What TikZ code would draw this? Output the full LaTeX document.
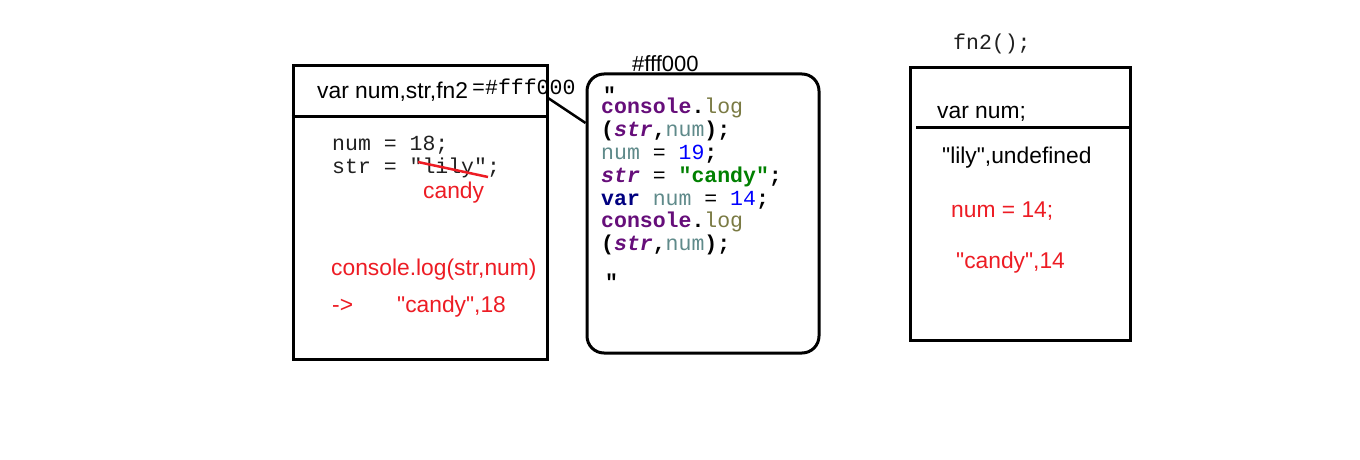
\documentclass[tikz,border=0pt]{standalone}
\usepackage{fontspec}
\setmainfont{Liberation Sans}[Ligatures=TeXOff]
\setmonofont{Liberation Mono}
\definecolor{pred}{RGB}{237,28,36}
\definecolor{jpurple}{HTML}{660E7A}
\definecolor{jolive}{HTML}{7A7A43}
\definecolor{jteal}{HTML}{5F8A8A}
\definecolor{jblue}{HTML}{0000FF}
\definecolor{jgreen}{HTML}{008000}
\definecolor{jnavy}{HTML}{000080}
\definecolor{codegray}{HTML}{202020}
\newcommand{\kw}[2]{\textcolor{#1}{\bfseries #2}}
\newcommand{\gv}[1]{\textcolor{jpurple}{\bfseries\itshape #1}}
\begin{document}
\begin{tikzpicture}[x=1pt,y=-1pt,
  box/.style={draw,line width=3pt,inner sep=0pt},
  txt/.style={anchor=base west,inner sep=0pt,font=\fontsize{22.8}{26}\selectfont},
  redtxt/.style={txt,text=pred},
  code/.style={anchor=base west,inner sep=0pt,font=\fontsize{21.5}{23}\selectfont\ttfamily},
  divider/.style={line width=3pt}]
\fill[white] (0,0) rectangle (1360,460);
\useasboundingbox (0,0) rectangle (1360,460);

% ---------- left box ----------
\node[box,minimum width=254pt,minimum height=293pt] (lbox) at (420,212.5) {};
\draw[divider] (lbox.west |- 0,116) -- (lbox.east |- 0,116);
\node[txt] (lhead) at (317,99) {var num,str,fn2};
\node[code] (lhash) at (472,95) {=\#fff000};
\node[code,text=codegray] (lnum) at (332,150) {num = 18;};
\node[code,text=codegray] (lstr) at (332,173) {str = "lily";};
\coordinate (s1) at (418,162);
\coordinate (s2) at (488,177);
\draw[pred,line width=2.5pt] (s1) -- (s2);
\node[redtxt] (lcandy) at (423,198) {candy};
\node[redtxt] (llog) at (331,275) {console.log(str,num)};
\node[redtxt] (larrow) at (332,312) {->};
\node[redtxt] (lres) at (397,312) {"candy",18};

% ---------- function body box ----------
\node[box,rounded corners=17pt,minimum width=232pt,minimum height=279pt] (fbox) at (703,213.5) {};
\node[txt,font=\fontsize{22}{24}\selectfont] (fhash) at (632,72) {\#fff000};
\coordinate (c1) at (548,98);
\coordinate (c2) at (fbox.west |- 0,123);
\draw[line width=2.5pt] (c1) -- (c2);
\node[code] (f1) at (601,113) {\rlap{\hspace{2pt}\raisebox{10pt}{\bfseries "}}\kw{jpurple}{console}\textbf{.}\textcolor{jolive}{log}};
\node[code] (f2) at (601,136) {\textbf{(}\gv{str}\textbf{,}\textcolor{jteal}{num}\textbf{);}};
\node[code] (f3) at (601,159) {\textcolor{jteal}{num} = \textcolor{jblue}{19}\textbf{;}};
\node[code] (f4) at (601,182) {\gv{str} = \kw{jgreen}{"candy"}\textbf{;}};
\node[code] (f5) at (601,205) {\kw{jnavy}{var} \textcolor{jteal}{num} = \textcolor{jblue}{14}\textbf{;}};
\node[code] (f6) at (601,227) {\kw{jpurple}{console}\textbf{.}\textcolor{jolive}{log}};
\node[code] (f7) at (601,250) {\textbf{(}\gv{str}\textbf{,}\textcolor{jteal}{num}\textbf{);}};
\node[code] (q2) at (605,289) {\bfseries "};

% ---------- right box ----------
\node[code,text=codegray] (fn2) at (953,50) {fn2();};
\node[box,minimum width=220pt,minimum height=273pt] (rbox) at (1020,204) {};
\coordinate (d1) at (916,127.5);
\draw[divider] (d1) -- (rbox.east |- d1);
\node[txt] (rvar) at (937,118) {var num;};
\node[txt] (rlily) at (942,163) {"lily",undefined};
\node[redtxt] (rnum) at (951,217) {num = 14;};
\node[redtxt] (rcandy) at (956,268) {"candy",14};
\end{tikzpicture}
\end{document}
